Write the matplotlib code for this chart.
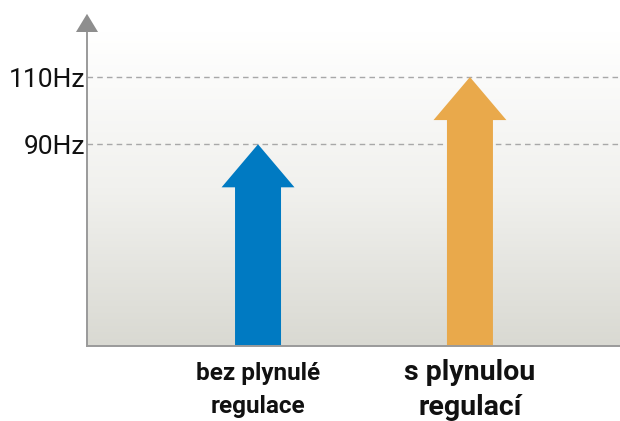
import numpy as np
import matplotlib
matplotlib.use("Agg")
import matplotlib.pyplot as plt
from matplotlib.colors import LinearSegmentedColormap

# data
categories = ["bez plynulé\nregulace", "s plynulou\nregulací"]
freqs = [90, 110]
tick_vals = [90, 110]
tick_labels = ["90Hz", "110Hz"]
colors = ["#007ac2", "#e9a94b"]

narrow = ["Roboto", "DejaVu Sans"]

fig = plt.figure(figsize=(6.2, 4.21), dpi=100)
ax = fig.add_axes([87 / 620, 1 - 346 / 421, 533 / 620, 314 / 421])
ax.set_xlim(-0.807, 1.708)
ax.set_ylim(30, 123.4)

# gradient background, white at top
cmap = LinearSegmentedColormap.from_list("bg", ["#ffffff", "#f1f1ee", "#d9d9d2"])
grad = np.linspace(0, 1, 256).reshape(-1, 1)
ax.imshow(grad, cmap=cmap, aspect="auto", origin="upper",
          extent=[-0.807, 1.708, 30, 123.4], zorder=0)

# dashed reference lines
for v in tick_vals:
    ax.axhline(v, color="#a8a8a8", lw=1.0, ls=(0, (4, 3)), zorder=1)

# arrows
shaft_w = 0.217
head_w = 0.344
head_len = 12.8
for i, (f, c) in enumerate(zip(freqs, colors)):
    base = 30
    hb = f - head_len
    xs = [i - shaft_w / 2, i - shaft_w / 2, i - head_w / 2, i, i + head_w / 2,
          i + shaft_w / 2, i + shaft_w / 2]
    ys = [base, hb, hb, f, hb, hb, base]
    ax.fill(xs, ys, color=c, lw=0, zorder=2)

ax.set_yticks(tick_vals)
ax.set_yticklabels(tick_labels, family=narrow, fontsize=19, color="#111111")
ax.tick_params(axis="y", length=0, pad=1)
ax.set_xticks([])

for s in ["top", "right"]:
    ax.spines[s].set_visible(False)
for s in ["left", "bottom"]:
    ax.spines[s].set_color("#9a9a9a")
    ax.spines[s].set_linewidth(1.4)
ax.spines["left"].set_bounds(30, 123.4)

# arrowhead on top of y axis
ax.fill([-0.807 - 0.052, -0.807, -0.807 + 0.052], [123.4, 128.8, 123.4],
        color="#8e8e8e", lw=0, clip_on=False, zorder=3)

# category labels
ax.text(0, 16.9, categories[0], ha="center", va="center", family=narrow,
        fontweight="bold", fontsize=17.5, linespacing=1.58, color="#111111")
ax.text(1, 16.9, categories[1], ha="center", va="center", family=narrow,
        fontweight="bold", fontsize=20.5, linespacing=1.36, color="#111111")

fig.savefig("out.png", dpi=100)
